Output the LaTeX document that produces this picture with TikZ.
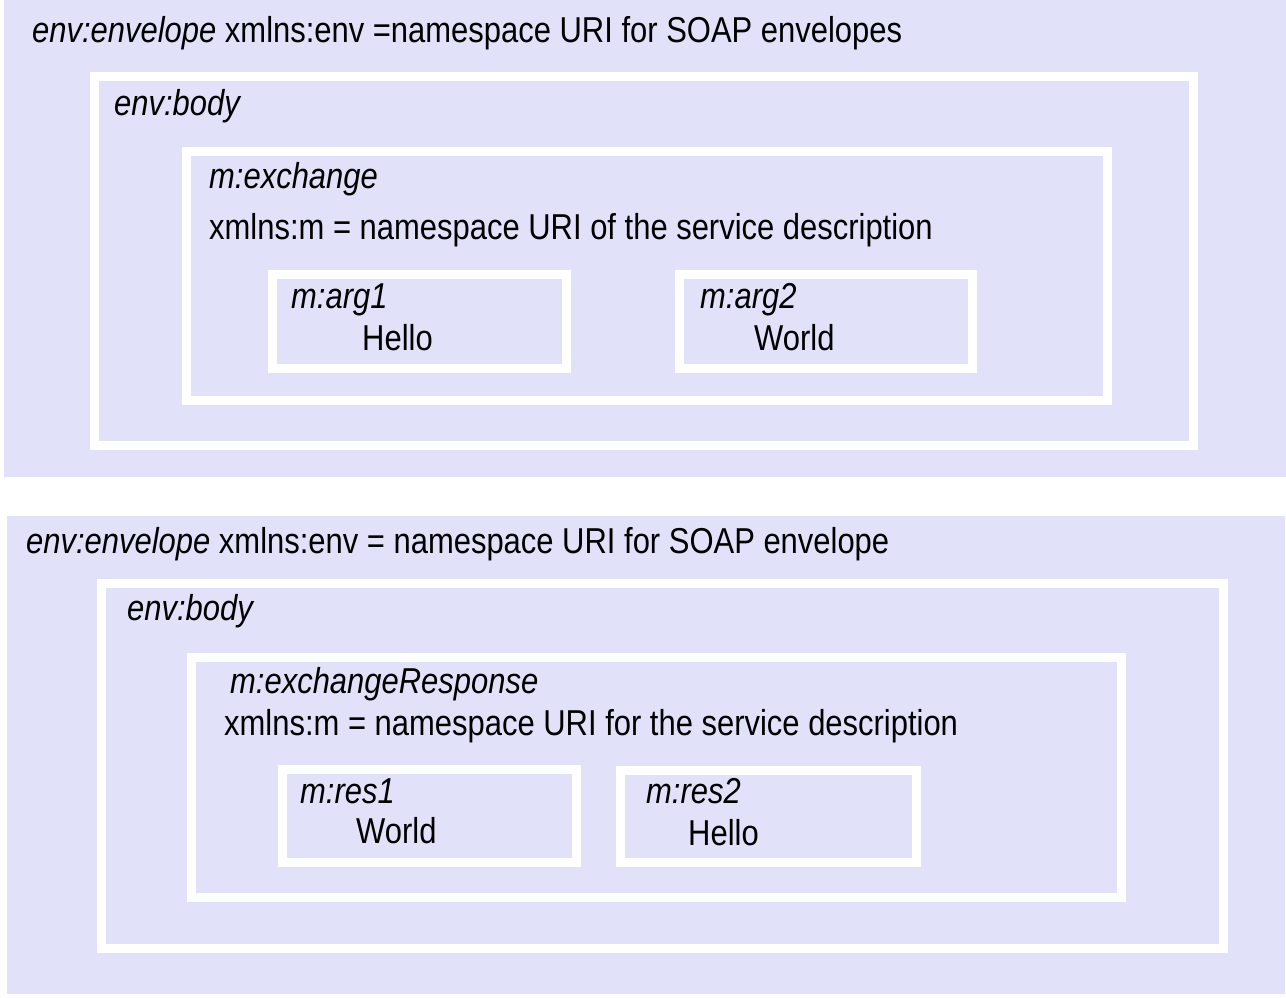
\documentclass[tikz,border=0pt]{standalone}
\usepackage{fontspec}
\setmainfont{Liberation Sans}[FakeStretch=0.86]
\usetikzlibrary{positioning}
\definecolor{lavender}{RGB}{225,225,250}

\begin{document}
\begin{tikzpicture}[x=1pt, y=-1pt]
        % Define styles for shapes
        \tikzstyle{envelope} = [fill=lavender]
        \tikzstyle{frame} = [draw=white, line width=9pt, fill=lavender]
        \tikzstyle{txt} = [anchor=base west, inner sep=0pt, font=\fontsize{36}{40}\selectfont]
        \tikzstyle{tagtxt} = [txt, font=\fontsize{36}{40}\selectfont\itshape]
        \fill[white] (0,0) rectangle (1286,998);
        \useasboundingbox (0,0) rectangle (1286,998);

        % Request envelope
        \path[envelope] (4,0) rectangle (1286,477);
        \path[frame] (94,77) rectangle (1193,445);
        \path[frame] (186,151) rectangle (1107,400);
        \path[frame] (272,274) rectangle (566,368);
        \path[frame] (679,274) rectangle (972,368);
        \node[txt] (reqenv) at (32,43) {\itshape env:envelope\upshape{} xmlns:env =namespace URI for SOAP envelopes};
        \node[tagtxt] (reqbody) at (114,115) {env:body};
        \node[tagtxt] (exch) at (209,188) {m:exchange};
        \node[txt] (exchns) at (209,239) {xmlns:m = namespace URI of the service description};
        \node[tagtxt] (arg1) at (291,308) {m:arg1};
        \node[txt] (arg1val) at (362,350) {Hello};
        \node[tagtxt] (arg2) at (700,308) {m:arg2};
        \node[txt] (arg2val) at (754,350) {World};

        % Response envelope
        \path[envelope] (7,516) rectangle (1285,994);
        \path[frame] (101,583) rectangle (1223,948);
        \path[frame] (191,657) rectangle (1121,897);
        \path[frame] (282,769) rectangle (576,862);
        \path[frame] (620,770) rectangle (916,862);
        \node[txt] (resenv) at (26,553) {\itshape env:envelope\upshape{} xmlns:env = namespace URI for SOAP envelope};
        \node[tagtxt] (resbody) at (127,620) {env:body};
        \node[tagtxt] (exchres) at (230,693) {m:exchangeResponse};
        \node[txt] (exchresns) at (224,735) {xmlns:m = namespace URI for the service description};
        \node[tagtxt] (res1) at (300,803) {m:res1};
        \node[txt] (res1val) at (356,843) {World};
        \node[tagtxt] (res2) at (646,803) {m:res2};
        \node[txt] (res2val) at (688,845) {Hello};
    \end{tikzpicture}
\end{document}
